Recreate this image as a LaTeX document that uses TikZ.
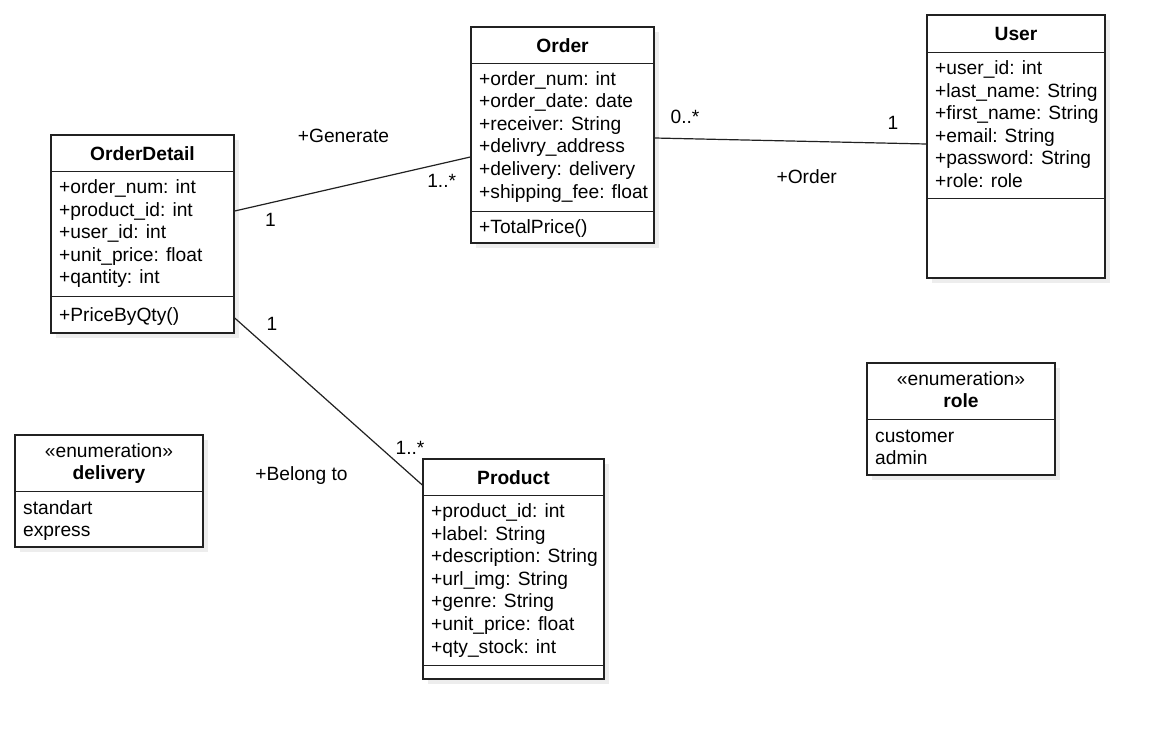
\documentclass[tikz,border=0pt]{standalone}
\usepackage{fontspec}
\setmainfont{Liberation Sans}
\usetikzlibrary{shapes, shadows, calc, positioning}
\definecolor{umlline}{rgb}{0.13, 0.13, 0.13}
\definecolor{umlshadow}{rgb}{0.93, 0.93, 0.93}

\tikzset{
    classbox/.style={draw=umlline, line width=1.4pt, fill=white, rectangle, inner sep=0pt,
        drop shadow={shadow xshift=5pt, shadow yshift=-5pt, fill=umlshadow, opacity=1}},
    sepline/.style={draw=umlline, line width=1.4pt},
    ctitle/.style={font=\fontsize{19.2}{22.6}\selectfont\bfseries, anchor=base, inner sep=0pt},
    cattr/.style={anchor=base west, inner sep=0pt},
    mult/.style={anchor=base, inner sep=0pt},
    assoc/.style={draw=umlline, line width=1.2pt},
}

\begin{document}
\begin{tikzpicture}[x=1pt, y=-1pt, font=\fontsize{19.2}{22.6}\selectfont]
        \useasboundingbox[fill=white] (0,0) rectangle (1164,739);

        % OrderDetail
        \node[classbox, minimum width=183pt, minimum height=198pt] (OrderDetail) at (142.5,234) {};
        \draw[sepline] ([yshift=-37pt]OrderDetail.north west) -- ([yshift=-37pt]OrderDetail.north east);
        \draw[sepline] ([yshift=-162pt]OrderDetail.north west) -- ([yshift=-162pt]OrderDetail.north east);
        \node[ctitle] (OrderDetail-t) at (142.5,160) {OrderDetail};
        \foreach \a [count=\i from 0] in {+order\_num: int, +product\_id: int, +user\_id: int, +unit\_price: float, +qantity: int}
            \node[cattr] (OrderDetail-a\i) at (59,193.5+22.6*\i) {\a};
        \node[cattr] (OrderDetail-m) at (59,321.5) {+PriceByQty()};

        % Order
        \node[classbox, minimum width=183pt, minimum height=216pt] (Order) at (562.5,135) {};
        \draw[sepline] ([yshift=-37pt]Order.north west) -- ([yshift=-37pt]Order.north east);
        \draw[sepline] ([yshift=-185pt]Order.north west) -- ([yshift=-185pt]Order.north east);
        \node[ctitle] (Order-t) at (562.5,52) {Order};
        \foreach \a [count=\i from 0] in {+order\_num: int, +order\_date: date, +receiver: String, +delivry\_address, +delivery: delivery, +shipping\_fee: float}
            \node[cattr] (Order-a\i) at (479,85+22.6*\i) {\a};
        \node[cattr] (Order-m) at (479,233) {+TotalPrice()};

        % User
        \node[classbox, minimum width=178pt, minimum height=263pt] (User) at (1016,146.5) {};
        \draw[sepline] ([yshift=-38pt]User.north west) -- ([yshift=-38pt]User.north east);
        \draw[sepline] ([yshift=-184pt]User.north west) -- ([yshift=-184pt]User.north east);
        \node[ctitle] (User-t) at (1016,40) {User};
        \foreach \a [count=\i from 0] in {+user\_id: int, +last\_name: String, +first\_name: String, +email: String, +password: String, +role: role}
            \node[cattr] (User-a\i) at (935,74.5+22.6*\i) {\a};

        % Product
        \node[classbox, minimum width=181pt, minimum height=220pt] (Product) at (513.5,569) {};
        \draw[sepline] ([yshift=-37pt]Product.north west) -- ([yshift=-37pt]Product.north east);
        \draw[sepline] ([yshift=-207pt]Product.north west) -- ([yshift=-207pt]Product.north east);
        \node[ctitle] (Product-t) at (513.5,484) {Product};
        \foreach \a [count=\i from 0] in {+product\_id: int, +label: String, +description: String, +url\_img: String, +genre: String, +unit\_price: float, +qty\_stock: int}
            \node[cattr] (Product-a\i) at (431,517.5+22.6*\i) {\a};

        % enumeration delivery
        \node[classbox, minimum width=188pt, minimum height=112pt] (Delivery) at (109,491) {};
        \draw[sepline] ([yshift=-57pt]Delivery.north west) -- ([yshift=-57pt]Delivery.north east);
        \node[mult] (Delivery-s) at (109,457) {«enumeration»};
        \node[ctitle] (Delivery-t) at (109,479) {delivery};
        \node[cattr] (Delivery-a0) at (23,514) {standart};
        \node[cattr] (Delivery-a1) at (23,536.6) {express};

        % enumeration role
        \node[classbox, minimum width=188pt, minimum height=112pt] (Role) at (961,419) {};
        \draw[sepline] ([yshift=-57pt]Role.north west) -- ([yshift=-57pt]Role.north east);
        \node[mult] (Role-s) at (961,385) {«enumeration»};
        \node[ctitle] (Role-t) at (961,407) {role};
        \node[cattr] (Role-a0) at (875,442) {customer};
        \node[cattr] (Role-a1) at (875,464.6) {admin};

        % associations
        \draw[assoc] ([yshift=23pt]OrderDetail.east) -- ([yshift=-22pt]Order.west);
        \draw[assoc] ([yshift=-3pt]Order.east) -- ([yshift=2.5pt]User.west);
        \draw[assoc] ([yshift=-84pt]OrderDetail.east) -- ([yshift=84pt]Product.west);

        \node[mult] (GenerateLabel) at (343.5,142.7) {+Generate};
        \node[mult] (GenerateOne) at (270.5,226.7) {1};
        \node[mult] (GenerateMany) at (441.7,187.7) {1..*};
        \node[mult] (OrderMany) at (685,123.3) {0..*};
        \node[mult] (OrderOne) at (893,129.3) {1};
        \node[mult] (OrderLabel) at (806.7,183.3) {+Order};
        \node[mult] (BelongOne) at (272,330) {1};
        \node[mult] (BelongMany) at (410,454.3) {1..*};
        \node[mult] (BelongLabel) at (301.5,480) {+Belong to};
    \end{tikzpicture}
\end{document}
